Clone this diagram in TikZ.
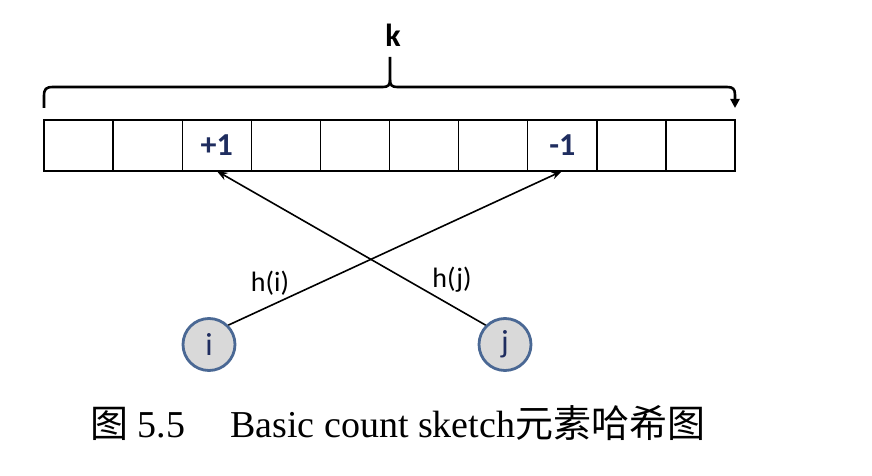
\documentclass[tikz,border=0pt]{standalone}
\usepackage{fontspec}
\setmainfont{Liberation Serif}
\newfontfamily\cjkf{Noto Sans CJK SC}
\newfontfamily\carl{Carlito}
\usetikzlibrary{arrows.meta}
\definecolor{navy}{RGB}{31,45,95}
\definecolor{cfill}{RGB}{217,217,217}
\definecolor{cborder}{RGB}{74,104,148}
\tikzset{
  cellbox/.style={draw=black, line width=1.3pt, minimum width=69pt, minimum height=51pt, inner sep=0pt, outer sep=0pt,
    font=\carl\bfseries\fontsize{32}{34}\selectfont, text=navy},
  elem/.style={circle, draw=cborder, line width=2.8pt, fill=cfill, minimum size=52pt, inner sep=0pt,
    font=\carl\fontsize{32}{34}\selectfont, text=navy},
  hashline/.style={line width=1.6pt, -{Stealth[length=11pt,width=8pt]}},
  lbl/.style={font=\carl\fontsize{28}{30}\selectfont},
  bracel/.style={line width=2.6pt}
}
\begin{document}
\begin{tikzpicture}[x=1pt,y=-1pt]
\useasboundingbox (0,0) rectangle (872,476);
\foreach \n/\t in {1/,2/,3/+1,4/,5/,6/,7/,8/-1,9/,10/} {
  \node[cellbox] (c\n) at ({44+69.1*(\n-0.5)},145.5) {\t};
}
\node[font=\carl\bfseries\fontsize{32}{34}\selectfont] (k) at (393,35) {k};
\draw[bracel] (44,108) -- (44,96) .. controls (44,89) and (46,87) .. (53,87) -- (383,87)
  .. controls (388,87) and (390,85) .. (390,80) -- (390,57);
\draw[bracel, -{Triangle[length=9pt,width=9pt]}] (390,80) .. controls (390,85) and (392,87) .. (397,87) -- (727,87)
  .. controls (733,87) and (735,89) .. (735,95) -- (735,108);
\node[elem] (i) at (209,344.5) {i};
\node[elem] (j) at (505,344.5) {j};
\draw[hashline] (i.45) -- (c8.south);
\draw[hashline] (j.135) -- (c3.south);
\node[lbl] (hi) at (270,283) {h(i)};
\node[lbl] (hj) at (452,280) {h(j)};
\node[anchor=base west, inner sep=0pt, font=\fontsize{38}{40}\selectfont] (cap) at (90,437)
  {{\cjkf 图} 5.5\hspace{45pt}Basic count sketch{\cjkf 元素哈希图}};
\end{tikzpicture}
\end{document}
